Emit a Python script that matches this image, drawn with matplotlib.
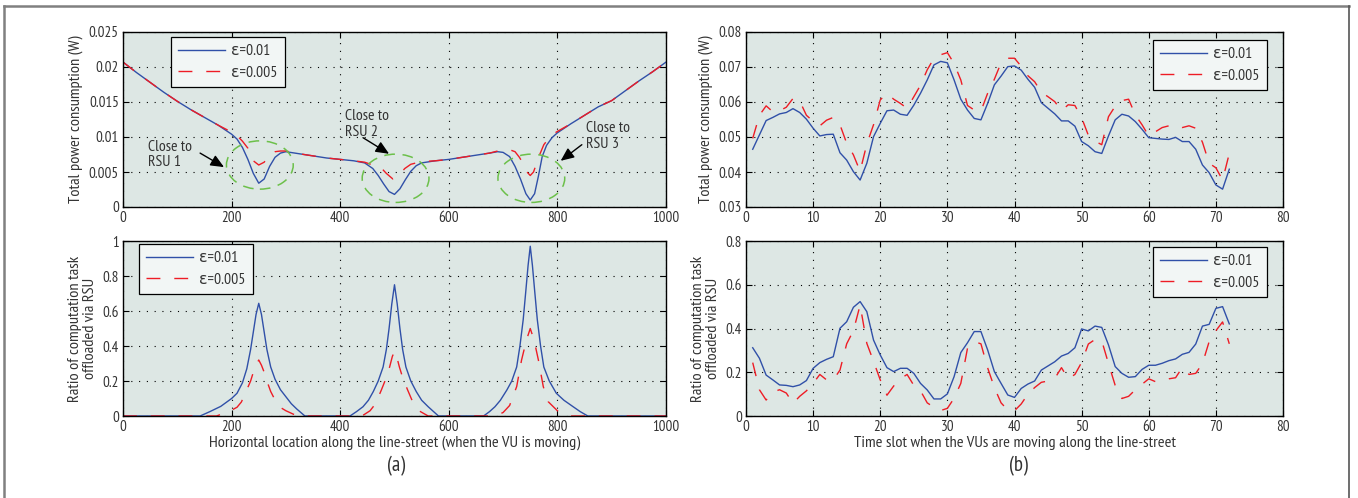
import matplotlib
matplotlib.use("Agg")
import matplotlib.pyplot as plt
from matplotlib.patches import Ellipse
from matplotlib.lines import Line2D
from matplotlib import font_manager

# ---------------- data ----------------
loc_blue = [0, 25, 50, 75, 100, 125, 150, 175, 200, 210, 220, 230, 240, 250, 260, 270, 280, 290, 300,
            325, 350, 375, 400, 425, 445, 460, 470, 480, 490, 500, 510, 520, 530, 540, 550, 575, 600,
            625, 650, 675, 690, 700, 712, 722, 732, 742, 750, 758, 765, 772, 780, 790, 800, 825, 850,
            875, 900, 925, 950, 975, 1000]
pow_blue = [0.0207, 0.0192, 0.0178, 0.0164, 0.0151, 0.0139, 0.0128, 0.0117, 0.0104, 0.0097, 0.0085,
            0.0068, 0.0048, 0.0034, 0.0040, 0.0058, 0.0071, 0.0077, 0.0079,
            0.0076, 0.0073, 0.0070, 0.0068, 0.0066, 0.0063, 0.0055, 0.0045, 0.0033, 0.0022, 0.0018,
            0.0026, 0.0039, 0.0051, 0.0059, 0.0063, 0.0066, 0.0068,
            0.0071, 0.0074, 0.0077, 0.0079, 0.0078, 0.0072, 0.0058, 0.0040, 0.0019, 0.0010, 0.0019,
            0.0044, 0.0072, 0.0088, 0.0099, 0.0106, 0.0119, 0.0131,
            0.0143, 0.0152, 0.0166, 0.0180, 0.0193, 0.0207]

loc_red = [0, 25, 50, 75, 100, 125, 150, 175, 200, 210, 220, 230, 240, 250, 260, 270, 280, 290, 300,
           325, 350, 375, 400, 425, 445, 460, 473, 485, 497, 505, 519, 530, 545, 555, 575, 600,
           625, 650, 675, 690, 705, 715, 722, 730, 737, 744, 750, 756, 762, 768, 775, 785, 792, 800,
           825, 850, 875, 900, 925, 950, 975, 1000]
pow_red = [0.0207, 0.0192, 0.0178, 0.0164, 0.0151, 0.0139, 0.0128, 0.0117, 0.0107, 0.0102, 0.0094,
           0.0084, 0.0066, 0.0060, 0.0064, 0.0075, 0.0079, 0.0080, 0.0080,
           0.0076, 0.0073, 0.0070, 0.0068, 0.0066, 0.0064, 0.0060, 0.0058, 0.0048, 0.0040, 0.0043,
           0.0055, 0.0061, 0.0064, 0.0065, 0.0066, 0.0068,
           0.0071, 0.0074, 0.0077, 0.0080, 0.0081, 0.0081, 0.0079, 0.0071, 0.0062, 0.0050, 0.0045,
           0.0050, 0.0063, 0.0076, 0.0089, 0.0099, 0.0104, 0.0108,
           0.0119, 0.0131, 0.0143, 0.0152, 0.0166, 0.0180, 0.0193, 0.0207]

rloc_blue = [0, 142, 160, 180, 200, 210, 220, 228, 235, 240, 245, 250, 255, 260, 265, 272, 280, 290,
             300, 310, 320, 335,
             418, 430, 442, 452, 461, 470, 479, 485, 490, 495, 500, 505, 510, 515, 521, 530, 540,
             550, 562, 572, 581,
             664, 675, 685, 695, 707, 716, 725, 731, 737, 742, 746, 750, 754, 758, 763, 769, 775,
             785, 798, 812, 829, 842, 856, 1000]
ratio_blue = [0, 0, 0.025, 0.055, 0.10, 0.13, 0.19, 0.27, 0.38, 0.48, 0.58, 0.644, 0.58, 0.48, 0.38,
              0.28, 0.21, 0.15, 0.11, 0.07, 0.04, 0,
              0, 0.025, 0.053, 0.09, 0.14, 0.20, 0.28, 0.38, 0.50, 0.64, 0.75, 0.64, 0.50, 0.38,
              0.28, 0.20, 0.14, 0.09, 0.053, 0.025, 0,
              0, 0.025, 0.053, 0.09, 0.149, 0.20, 0.28, 0.40, 0.55, 0.72, 0.86, 0.97, 0.86, 0.72,
              0.55, 0.40, 0.28, 0.20, 0.13, 0.09, 0.053, 0.025, 0, 0]

rloc_red = [0, 172, 195, 210, 218, 228, 235, 240, 245, 250, 255, 260, 265, 272, 283, 292, 300, 314, 328,
            440, 455, 465, 476, 485, 491, 496, 500, 504, 509, 515, 524, 535, 545, 562,
            685, 700, 712, 725, 734, 743, 750, 757, 765, 774, 783, 800, 815, 827, 1000]
ratio_red = [0, 0, 0.025, 0.05, 0.08, 0.15, 0.20, 0.25, 0.29, 0.32, 0.29, 0.25, 0.20, 0.14, 0.073,
             0.045, 0.03, 0.01, 0,
             0, 0.03, 0.07, 0.15, 0.22, 0.28, 0.34, 0.37, 0.34, 0.28, 0.22, 0.15, 0.07, 0.03, 0,
             0, 0.02, 0.06, 0.168, 0.32, 0.434, 0.50, 0.434, 0.32, 0.168, 0.082, 0.03, 0.01, 0, 0]

slots = list(range(1, 73))
tpow_blue = [0.0465, 0.0506, 0.0547, 0.0556, 0.0566, 0.0570, 0.0581, 0.0570, 0.0551, 0.0525,
             0.0503, 0.0507, 0.0508, 0.0455, 0.0434, 0.0401, 0.0377, 0.0425, 0.0501, 0.0539,
             0.0575, 0.0577, 0.0565, 0.0562, 0.0591, 0.0625, 0.0663, 0.0706, 0.0716, 0.0712,
             0.0663, 0.0608, 0.0577, 0.0553, 0.0549, 0.0596, 0.0649, 0.0674, 0.0701, 0.0703,
             0.0691, 0.0665, 0.0642, 0.0598, 0.0582, 0.0566, 0.0546, 0.0546, 0.0531, 0.0487,
             0.0475, 0.0458, 0.0453, 0.0503, 0.0549, 0.0565, 0.0560, 0.0544, 0.0522, 0.0498,
             0.0496, 0.0494, 0.0493, 0.0499, 0.0487, 0.0487, 0.0465, 0.0420, 0.0398, 0.0363,
             0.0351, 0.0408]
tpow_red = [0.0496, 0.0562, 0.0589, 0.0572, 0.0575, 0.0585, 0.0610, 0.0603, 0.0562, 0.0545,
            0.0532, 0.0548, 0.0556, 0.0535, 0.0482, 0.0449, 0.0402, 0.0480, 0.0535, 0.0606,
            0.0625, 0.0608, 0.0596, 0.0582, 0.0615, 0.0648, 0.0692, 0.0725, 0.0735, 0.0741,
            0.0710, 0.0663, 0.0590, 0.0577, 0.0574, 0.0625, 0.0665, 0.0712, 0.0725, 0.0725,
            0.0702, 0.0675, 0.0658, 0.0628, 0.0615, 0.0601, 0.0575, 0.0592, 0.0590, 0.0555,
            0.0505, 0.0488, 0.0478, 0.0558, 0.0588, 0.0604, 0.0608, 0.0563, 0.0535, 0.0503,
            0.0515, 0.0527, 0.0532, 0.0534, 0.0527, 0.0532, 0.0525, 0.0485, 0.0425, 0.0412,
            0.0377, 0.0453]
tratio_blue = [0.312, 0.264, 0.187, 0.165, 0.142, 0.140, 0.134, 0.142, 0.162, 0.218,
               0.244, 0.259, 0.271, 0.401, 0.431, 0.497, 0.523, 0.477, 0.347, 0.279,
               0.221, 0.203, 0.218, 0.218, 0.195, 0.149, 0.119, 0.078, 0.078, 0.101,
               0.180, 0.290, 0.335, 0.386, 0.386, 0.302, 0.203, 0.149, 0.096, 0.085,
               0.126, 0.146, 0.160, 0.210, 0.229, 0.248, 0.274, 0.286, 0.312, 0.398,
               0.389, 0.411, 0.405, 0.325, 0.226, 0.195, 0.177, 0.180, 0.213, 0.232,
               0.232, 0.241, 0.253, 0.261, 0.282, 0.291, 0.329, 0.411, 0.419, 0.492,
               0.500, 0.421]
tratio_red = [0.244, 0.120, 0.073, 0.110, 0.120, 0.105, 0.058, 0.090, 0.115, 0.149,
              0.190, 0.165, 0.165, 0.210, 0.330, 0.390, 0.507, 0.332, 0.250, 0.165,
              0.095, 0.137, 0.170, 0.190, 0.140, 0.115, 0.060, 0.040, 0.025, 0.035,
              0.081, 0.149, 0.310, 0.340, 0.330, 0.220, 0.130, 0.060, 0.027, 0.024,
              0.055, 0.100, 0.130, 0.154, 0.160, 0.172, 0.221, 0.170, 0.190, 0.245,
              0.329, 0.350, 0.344, 0.240, 0.140, 0.080, 0.090, 0.120, 0.145, 0.170,
              0.157, 0.162, 0.170, 0.175, 0.222, 0.190, 0.195, 0.240, 0.340, 0.390,
              0.430, 0.330]

legend_labels = ["ε=0.01", "ε=0.005"]
rsu_x = [250, 500, 750]
rsu_labels = ["Close to\nRSU 1", "Close to\nRSU 2", "Close to\nRSU 3"]

# ---------------- style ----------------
def has_regular(name):
    for f in font_manager.fontManager.ttflist:
        if f.name == name and f.style == 'normal' and f.weight in (400, 'normal', 'regular', 'book'):
            return True
    return False

pref = ["Myriad Pro", "Source Sans Pro", "Source Sans 3", "PT Sans Narrow", "Roboto Condensed",
        "Liberation Sans Narrow", "Lato", "Open Sans"]
fam = [f for f in pref if has_regular(f)][:1]
plt.rcParams['font.family'] = fam + ["DejaVu Sans"]
plt.rcParams['font.weight'] = 'normal'
TXT = "#333333"
BLUE = "#3050a8"
RED = "#ee1c25"
AXBG = "#dde7e4"
LEGBG = "#f2f6f5"
FS = 10.8      # tick labels / annotations
LFS = 11.8     # axis labels
GFS = 11.3     # legend
DASH = (0, (10, 10))

fig = plt.figure(figsize=(13.58, 4.98), dpi=100)
W, H = 1358.0, 498.0

def make_ax(l, t, r, b):
    return fig.add_axes([l / W, (H - b) / H, (r - l) / W, (b - t) / H])

ax1 = make_ax(123, 32, 666, 207)
ax2 = make_ax(123, 241, 666, 416)
ax3 = make_ax(746, 32, 1283, 207)
ax4 = make_ax(746, 241, 1283, 416)

def style(ax, xlim, ylim, xt, yt, xtl, ytl):
    ax.set_facecolor(AXBG)
    ax.set_xlim(*xlim)
    ax.set_ylim(*ylim)
    ax.set_xticks(xt)
    ax.set_yticks(yt)
    ax.set_xticklabels(xtl)
    ax.set_yticklabels(ytl)
    ax.tick_params(direction='in', top=True, right=True, length=4, width=0.8,
                   labelsize=FS, labelcolor=TXT, pad=3, color='black')
    ax.grid(True, linestyle=(0, (1, 6)), color='black', linewidth=0.8)
    for s in ax.spines.values():
        s.set_linewidth(1.0)
        s.set_color('black')

def legend(ax, loc, anchor):
    h1 = Line2D([], [], color=BLUE, lw=1.0)
    h2 = Line2D([], [], color=RED, lw=1.0, linestyle=DASH)
    lg = ax.legend([h1, h2], legend_labels, loc=loc, bbox_to_anchor=anchor, borderaxespad=0,
                   fontsize=GFS, handlelength=3.0, handletextpad=0.4, fancybox=False,
                   framealpha=1, facecolor=LEGBG, edgecolor='black', labelspacing=0.5,
                   borderpad=0.45)
    lg.get_frame().set_linewidth(0.9)
    for t in lg.get_texts():
        t.set_color(TXT)

# top-left
style(ax1, (0, 1000), (0, 0.025), [0, 200, 400, 600, 800, 1000],
      [0, 0.005, 0.01, 0.015, 0.02, 0.025],
      ["0", "200", "400", "600", "800", "1000"],
      ["0", "0.005", "0.01", "0.015", "0.02", "0.025"])
ax1.plot(loc_blue, pow_blue, color=BLUE, lw=1.0)
ax1.plot(loc_red, pow_red, color=RED, lw=1.0, linestyle=DASH)
ax1.set_ylabel("Total power consumption (W)", fontsize=LFS, color=TXT, labelpad=4)
legend(ax1, 'upper left', (0.088, 0.971))
ell_y = [0.0060, 0.0041, 0.0041]
for cx, cy in zip(rsu_x, ell_y):
    ax1.add_patch(Ellipse((cx + 2, cy), 123, 0.0069, fill=False, edgecolor="#6cc04a",
                          linestyle=(0, (7, 5)), lw=1.1, zorder=4))
txt_pos = [(46, 0.0075), (409, 0.0119), (853, 0.0101)]
arr_tail = [(142, 0.0077), (442, 0.0099), (845, 0.0089)]
arr_tip = [(186, 0.0057), (490, 0.0076), (806, 0.0066)]
for lab, tp, ta, tt in zip(rsu_labels, txt_pos, arr_tail, arr_tip):
    ax1.text(tp[0], tp[1], lab, fontsize=GFS, color=TXT, va='center', ha='left', linespacing=1.15)
    ax1.annotate("", xy=tt, xytext=ta,
                 arrowprops=dict(arrowstyle="-|>,head_length=0.8,head_width=0.35",
                                 color='black', lw=1.0, shrinkA=0, shrinkB=0))

# bottom-left
style(ax2, (0, 1000), (0, 1), [0, 200, 400, 600, 800, 1000],
      [0, 0.2, 0.4, 0.6, 0.8, 1],
      ["0", "200", "400", "600", "800", "1000"],
      ["0", "0.2", "0.4", "0.6", "0.8", "1"])
ax2.plot(rloc_blue, ratio_blue, color=BLUE, lw=1.0)
ax2.plot(rloc_red, ratio_red, color=RED, lw=1.0, linestyle=DASH)
ax2.set_ylabel("Ratio of computation task\noffloaded via RSU", fontsize=LFS, color=TXT,
               labelpad=4, linespacing=1.05)
ax2.set_xlabel("Horizontal location along the line-street (when the VU is moving)",
               fontsize=LFS, color=TXT, labelpad=1)
legend(ax2, 'upper left', (0.029, 0.983))

# top-right
style(ax3, (0, 80), (0.03, 0.08), list(range(0, 81, 10)),
      [0.03, 0.04, 0.05, 0.06, 0.07, 0.08],
      [str(v) for v in range(0, 81, 10)],
      ["0.03", "0.04", "0.05", "0.06", "0.07", "0.08"])
ax3.plot(slots, tpow_blue, color=BLUE, lw=1.0)
ax3.plot(slots, tpow_red, color=RED, lw=1.0, linestyle=DASH)
ax3.set_ylabel("Total power consumption (W)", fontsize=LFS, color=TXT, labelpad=4)
legend(ax3, 'upper right', (0.970, 0.954))

# bottom-right
style(ax4, (0, 80), (0, 0.8), list(range(0, 81, 10)),
      [0, 0.2, 0.4, 0.6, 0.8],
      [str(v) for v in range(0, 81, 10)],
      ["0", "0.2", "0.4", "0.6", "0.8"])
ax4.plot(slots, tratio_blue, color=BLUE, lw=1.0)
ax4.plot(slots, tratio_red, color=RED, lw=1.0, linestyle=DASH)
ax4.set_ylabel("Ratio of computation task\noffloaded via RSU", fontsize=LFS, color=TXT,
               labelpad=4, linespacing=1.05)
ax4.set_xlabel("Time slot when the VUs are moving along the line-street",
               fontsize=LFS, color=TXT, labelpad=1)
legend(ax4, 'upper right', (0.970, 0.966))

# sub-captions
fig.text(396 / W, 1 - 466 / H, "(a)", fontsize=15, color=TXT, ha='center', va='center')
fig.text(1018 / W, 1 - 466 / H, "(b)", fontsize=15, color=TXT, ha='center', va='center')

# outer frame
fc = "#808080"
fig.add_artist(Line2D([4 / W, 4 / W], [0, 1 - 6 / H], color=fc, lw=1.8, transform=fig.transFigure))
fig.add_artist(Line2D([4 / W, 1349 / W], [1 - 6 / H, 1 - 6 / H], color=fc, lw=1.8,
                      transform=fig.transFigure))
fig.add_artist(Line2D([1349 / W, 1349 / W], [0, 1 - 6 / H], color="#555555", lw=1.2,
                      transform=fig.transFigure))

fig.savefig("out.png", dpi=100, facecolor='white')
